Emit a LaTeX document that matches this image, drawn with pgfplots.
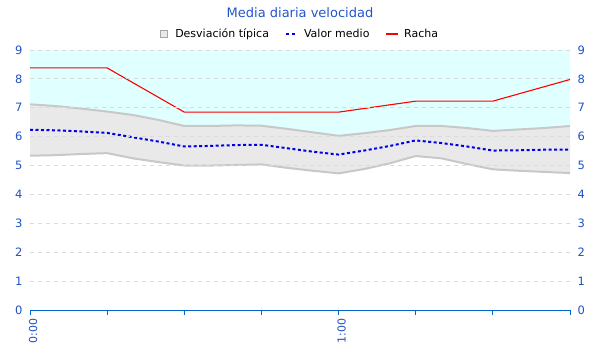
\documentclass[border=0pt]{standalone}
\usepackage{pgfplots}
\pgfplotsset{compat=1.18}
\usepgfplotslibrary{fillbetween}
\usepackage{fontspec}
\setmainfont{DejaVu Sans}
\definecolor{titleblue}{RGB}{34,85,204}
\definecolor{tickblue}{RGB}{30,80,200}
\definecolor{axisblue}{RGB}{0,102,204}
\definecolor{cyanfill}{RGB}{224,255,255}
\definecolor{bandfill}{RGB}{233,233,233}
\definecolor{bandedge}{RGB}{200,200,200}
\definecolor{gridgray}{RGB}{218,218,218}
\definecolor{meanblue}{RGB}{0,0,230}
\begin{document}
\begin{tikzpicture}[x=1pt,y=1pt]
\begin{axis}[
  at={(30pt,50pt)}, anchor=south west,
  width=540pt, height=260pt, scale only axis,
  xmin=0, xmax=105, ymin=0, ymax=9,
  /pgf/number format/assume math mode=true,
  axis on top,
  axis x line*=bottom, axis y line*=left,
  y axis line style={draw=none},
  x axis line style={draw=axisblue, line width=1pt, -},
  xtick={0,15,...,105},
  xticklabels={0:00,,,,1:00,,,},
  xtick align=outside,
  major tick length=5pt,
  x tick style={draw=axisblue, line width=1pt},
  xticklabel style={rotate=90, anchor=east, text=tickblue, font=\fontsize{11}{13}\selectfont, yshift=-3pt},
  ytick={0,1,...,9},
  y tick style={draw=none},
  yticklabel style={text=tickblue, font=\fontsize{11.5}{13}\selectfont, xshift=-4pt},
  ymajorgrids,
  major grid style={draw=gridgray, line width=1pt, dash pattern=on 4pt off 4pt},
  legend style={at={(0.5,1.062)}, anchor=center, draw=none, fill=none,
    legend columns=-1, font=\fontsize{11}{13}\selectfont,
    /tikz/every even column/.append style={column sep=14pt}},
  legend cell align=left,
]
\addplot[draw=none, name path=top, forget plot] coordinates {(0,9)(105,9)};
\addplot[draw=none, name path=upper, forget plot] coordinates {(0,7.12)(5,7.06)(10,6.97)(15,6.87)(20,6.75)(25,6.58)(30,6.37)(35,6.37)(40,6.39)(45,6.38)(50,6.27)(55,6.15)(60,6.03)(65,6.12)(70,6.23)(75,6.37)(80,6.37)(85,6.3)(90,6.2)(95,6.25)(100,6.3)(105,6.37)};
\addplot[draw=none, name path=lower, forget plot] coordinates {(0,5.34)(5,5.36)(10,5.40)(15,5.43)(20,5.25)(25,5.12)(30,5.0)(35,5.0)(40,5.02)(45,5.04)(50,4.92)(55,4.82)(60,4.73)(65,4.88)(70,5.08)(75,5.33)(80,5.25)(85,5.05)(90,4.87)(95,4.82)(100,4.78)(105,4.74)};
\addplot[cyanfill, forget plot] fill between[of=top and upper];
\addplot[bandfill, forget plot] fill between[of=upper and lower];
\addplot[bandedge, line width=2pt, forget plot] coordinates {(0,7.12)(5,7.06)(10,6.97)(15,6.87)(20,6.75)(25,6.58)(30,6.37)(35,6.37)(40,6.39)(45,6.38)(50,6.27)(55,6.15)(60,6.03)(65,6.12)(70,6.23)(75,6.37)(80,6.37)(85,6.3)(90,6.2)(95,6.25)(100,6.3)(105,6.37)};
\addplot[bandedge, line width=2pt, forget plot] coordinates {(0,5.34)(5,5.36)(10,5.40)(15,5.43)(20,5.25)(25,5.12)(30,5.0)(35,5.0)(40,5.02)(45,5.04)(50,4.92)(55,4.82)(60,4.73)(65,4.88)(70,5.08)(75,5.33)(80,5.25)(85,5.05)(90,4.87)(95,4.82)(100,4.78)(105,4.74)};
\addplot[meanblue, line width=2pt, dash pattern=on 3pt off 2.5pt, forget plot] coordinates {(0,6.24)(5,6.22)(10,6.18)(15,6.13)(20,5.98)(25,5.83)(30,5.66)(35,5.68)(40,5.71)(45,5.72)(50,5.6)(55,5.48)(60,5.38)(65,5.52)(70,5.68)(75,5.87)(80,5.78)(85,5.66)(90,5.52)(95,5.53)(100,5.55)(105,5.55)};
\addplot[red, line width=1.1pt, forget plot] coordinates {(0,8.38)(15,8.38)(30,6.85)(45,6.85)(60,6.85)(75,7.23)(90,7.23)(105,7.98)};
\addlegendimage{legend image code/.code={\draw[fill=bandfill, draw=gray!70, line width=0.8pt, solid] (0pt,-3.5pt) rectangle (7pt,3.5pt); \path[draw=none,fill=none] (0pt,0pt) -- (13pt,0pt);}}
\addlegendentry{Desviación típica}
\addlegendimage{legend image code/.code={\draw[meanblue, line width=2pt, dash pattern=on 3pt off 3pt] (0pt,0pt) -- (12pt,0pt); \path[draw=none,fill=none] (0pt,0pt) -- (16pt,0pt);}}
\addlegendentry{Valor medio}
\addlegendimage{legend image code/.code={\draw[red, line width=1.5pt, solid] (0pt,0pt) -- (12pt,0pt); \path[draw=none,fill=none] (0pt,0pt) -- (16pt,0pt);}}
\addlegendentry{Racha}
\end{axis}
\begin{axis}[
  at={(30pt,50pt)}, anchor=south west,
  width=540pt, height=260pt, scale only axis,
  xmin=0, xmax=105, ymin=0, ymax=9,
  /pgf/number format/assume math mode=true,
  axis x line=none, axis y line*=right,
  y axis line style={draw=none},
  y tick style={draw=none},
  ytick={0,1,...,9},
  yticklabel pos=right,
  yticklabel style={text=tickblue, font=\fontsize{11.5}{13}\selectfont, xshift=4pt},
]
\addplot[draw=none] coordinates {(0,0)(105,9)};
\end{axis}
\node[font=\fontsize{13}{15}\selectfont, text=titleblue] at (300,347.5) {Media diaria velocidad};
\pgfresetboundingbox
\path[use as bounding box] (0,0) rectangle (600,360);
\end{tikzpicture}
\end{document}
